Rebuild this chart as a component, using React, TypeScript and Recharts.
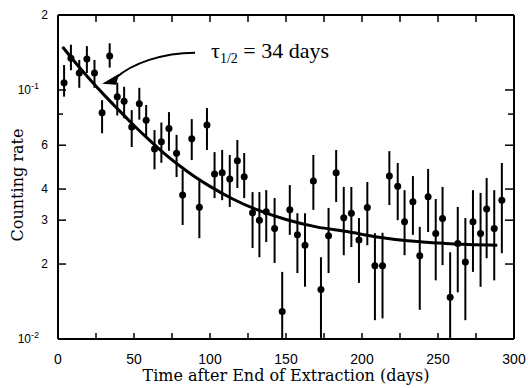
import React from 'react';
import { ComposedChart, Scatter, Line, XAxis, YAxis, ErrorBar, ReferenceDot } from 'recharts';

// measured points: days after extraction, counting rate, and the ends of each error bar
const times = [
  4, 8.5, 14, 19, 24, 29, 34, 39, 43.5, 48.5, 53.5, 58, 63.5, 68, 73, 78, 82, 88, 93, 98,
  103, 108, 113, 118, 122.5, 128, 132.5, 137, 142.5, 147.5, 152.5, 157.5, 162.5, 168, 173, 178,
  183, 188, 193, 198, 203.5, 208.5, 213.5, 218, 223.5, 228, 233.5, 238, 243.5, 248.5, 253, 258,
  263, 268, 273, 278, 282, 287, 292,
];
const rates = [
  0.107, 0.134, 0.117, 0.133, 0.117, 0.081, 0.137, 0.094, 0.09, 0.071, 0.088, 0.0755, 0.058,
  0.062, 0.07, 0.0557, 0.0379, 0.0637, 0.0338, 0.0723, 0.046, 0.0465, 0.0439, 0.052, 0.0448,
  0.0321, 0.03, 0.0324, 0.0278, 0.0129, 0.033, 0.0262, 0.0238, 0.0431, 0.0158, 0.026, 0.0465,
  0.0307, 0.032, 0.025, 0.0337, 0.0197, 0.0197, 0.0451, 0.0411, 0.0296, 0.0356, 0.0216, 0.0373,
  0.0265, 0.0305, 0.0147, 0.0242, 0.0204, 0.0296, 0.0265, 0.0333, 0.0278, 0.0361,
];
const rateLow = [
  0.094, 0.12, 0.102, 0.117, 0.102, 0.067, 0.123, 0.079, 0.077, 0.059, 0.076, 0.065, 0.048,
  0.051, 0.057, 0.0447, 0.0287, 0.0523, 0.0254, 0.0574, 0.0368, 0.0361, 0.0339, 0.0404, 0.0368,
  0.0232, 0.0213, 0.0245, 0.0202, 0.0101, 0.0262, 0.0184, 0.0162, 0.033, 0.0101, 0.0184, 0.0355,
  0.0217, 0.0234, 0.0168, 0.0238, 0.0119, 0.0121, 0.0345, 0.03, 0.0217, 0.0262, 0.0131, 0.0269,
  0.0172, 0.0198, 0.0101, 0.0154, 0.0119, 0.0186, 0.0162, 0.0211, 0.0172, 0.0221,
];
const rateHigh = [
  0.126, 0.152, 0.132, 0.15, 0.132, 0.091, 0.154, 0.107, 0.103, 0.083, 0.102, 0.087, 0.069,
  0.074, 0.0815, 0.066, 0.0477, 0.0764, 0.0435, 0.0846, 0.0563, 0.0574, 0.0548, 0.063, 0.0558,
  0.0389, 0.0389, 0.0396, 0.0368, 0.0186, 0.0415, 0.032, 0.032, 0.0548, 0.0213, 0.0336, 0.0574,
  0.0408, 0.0408, 0.0306, 0.0427, 0.0266, 0.0267, 0.0568, 0.0509, 0.0396, 0.0451, 0.0282, 0.0482,
  0.0365, 0.0408, 0.0223, 0.0339, 0.0306, 0.0396, 0.0386, 0.0443, 0.0396, 0.0509,
];

// fitted decay curve
const fitTimes = [3, 10, 20, 30, 40, 50, 60, 70, 80, 90, 100, 115, 130, 150, 170, 190, 210, 230, 255, 289];
const fitRates = [
  0.149, 0.132, 0.112, 0.096, 0.083, 0.072, 0.063, 0.0555, 0.0496, 0.0448, 0.041, 0.0365, 0.0332,
  0.0302, 0.0282, 0.027, 0.0257, 0.0248, 0.0242, 0.0238,
];

const xTicks = [0, 25, 50, 75, 100, 125, 150, 175, 200, 225, 250, 275, 300];
const yTicks = [0.01, 0.02, 0.03, 0.04, 0.05, 0.06, 0.07, 0.08, 0.09, 0.1, 0.2];
const yTickLabels = ['10^-2', '2', '3', '4', '5', '6', '', '', '', '10^-1', '2'];

// where the arrow points on the curve
const annotT = 29;
const annotV = 0.106;

const points = times.map((t, i) => ({
  t,
  v: rates[i],
  err: [rates[i] - rateLow[i], rateHigh[i] - rates[i]],
}));
const fit = fitTimes.map((t, i) => ({ t, v: fitRates[i] }));

const tickFont = '"Liberation Sans", Arial, sans-serif';
const titleFont = '"DejaVu Serif", serif';

const LEFT_GAP = 10;
const BOTTOM_GAP = 20;

const YTick = (props: any) => {
  const { x, y, payload } = props;
  const label = yTickLabels[yTicks.indexOf(payload.value)] ?? '';
  const ax = x + LEFT_GAP;
  const len = label ? 8 : 5;
  const [base, exp] = label.split('^');
  return (
    <g>
      <line x1={ax} x2={ax + len} y1={y} y2={y} stroke="#000" strokeWidth={1.5} />
      {label && exp && (
        <text x={x - 9} y={y + 4} textAnchor="end" fontSize={12} fontFamily={tickFont} fill="#000">
          {base}
          <tspan dy={-5} fontSize={9}>{exp}</tspan>
        </text>
      )}
      {label && !exp && (
        <text x={x} y={y + 4} textAnchor="end" fontSize={12} fontFamily={tickFont} fill="#000">
          {label}
        </text>
      )}
    </g>
  );
};

const YTickRight = (props: any) => {
  const { x, y, payload } = props;
  const len = yTickLabels[yTicks.indexOf(payload.value)] ? 8 : 5;
  return <line x1={x - 1} x2={x - 1 - len} y1={y} y2={y} stroke="#000" strokeWidth={1.5} />;
};

const XTick = (props: any) => {
  const { x, y, payload } = props;
  const ay = y - BOTTOM_GAP;
  return (
    <g>
      <line x1={x} x2={x} y1={ay} y2={ay - 6} stroke="#000" strokeWidth={1.5} />
      {payload.value % 50 === 0 && (
        <text x={x} y={y} dy={5} textAnchor="middle" fontSize={14} fontFamily={tickFont} fill="#000">
          {payload.value}
        </text>
      )}
    </g>
  );
};

const XTickTop = (props: any) => {
  const { x, y } = props;
  return <line x1={x} x2={x} y1={y + 1} y2={y + 7} stroke="#000" strokeWidth={1.5} />;
};

const ArrowNote = (props: any) => {
  const { cx, cy } = props;
  return (
    <g>
      <path
        d={`M ${cx + 93} ${cy - 31} C ${cx + 60} ${cy - 31} ${cx + 30} ${cy - 20} ${cx + 14} ${cy - 6}`}
        fill="none"
        stroke="#000"
        strokeWidth={2}
      />
      <polygon points={`${cx},${cy} ${cx + 17},${cy - 10} ${cx + 14},${cy + 1}`} fill="#000" />
      <text x={cx + 109} y={cy - 26} fontFamily='"Liberation Serif", serif' fontSize={22} fill="#000">
        τ<tspan fontSize={14} dy={5}>1/2</tspan>
        <tspan dy={-5}> = 34 days</tspan>
      </text>
    </g>
  );
};

const YTitle = (props: any) => {
  const { viewBox } = props;
  const x = viewBox.x + 17;
  const y = viewBox.y + viewBox.height / 2 + 8;
  return (
    <text x={x} y={y} transform={`rotate(-90 ${x} ${y})`} textAnchor="middle" dominantBaseline="central" fontSize={16} fontFamily={titleFont} fill="#000">
      Counting rate
    </text>
  );
};

const axisLine = { stroke: '#000', strokeWidth: 2 };

export default function App() {
  return (
    <div style={{ position: 'absolute', left: 0, top: 0, background: '#fff' }}>
      <ComposedChart width={528} height={388} margin={{ top: 14, right: 13, bottom: 19, left: 0 }}>
        <XAxis
          dataKey="t"
          type="number"
          domain={[0, 300]}
          ticks={xTicks}
          height={30}
          tickSize={0}
          tickMargin={BOTTOM_GAP}
          tick={XTick}
          tickLine={false}
          axisLine={axisLine}
          allowDataOverflow
          label={{
            value: 'Time after End of Extraction (days)',
            position: 'bottom',
            offset: 1,
            fontSize: 16,
            fontFamily: titleFont,
            fill: '#000',
          }}
        />
        <XAxis
          xAxisId="top"
          dataKey="t"
          orientation="top"
          type="number"
          domain={[0, 300]}
          ticks={xTicks}
          height={1}
          tickSize={0}
          tickMargin={0}
          tick={XTickTop}
          tickLine={false}
          axisLine={axisLine}
          allowDataOverflow
        />
        <YAxis
          dataKey="v"
          scale="log"
          domain={[0.01, 0.2]}
          ticks={yTicks}
          width={58}
          tickSize={0}
          tickMargin={LEFT_GAP}
          tick={YTick}
          tickLine={false}
          axisLine={axisLine}
          allowDataOverflow
          label={{ content: YTitle }}
        />
        <YAxis
          yAxisId="r"
          dataKey="v"
          orientation="right"
          scale="log"
          domain={[0.01, 0.2]}
          ticks={yTicks}
          width={1}
          tickSize={0}
          tickMargin={0}
          tick={YTickRight}
          tickLine={false}
          axisLine={axisLine}
          allowDataOverflow
        />
        {/* invisible copy that ties the frame axes (top, right) to data */}
        <Line
          data={fit}
          dataKey="v"
          xAxisId="top"
          yAxisId="r"
          stroke="none"
          dot={false}
          activeDot={false}
          isAnimationActive={false}
        />
        <Line
          data={fit}
          dataKey="v"
          type="monotone"
          stroke="#000"
          strokeWidth={3}
          dot={false}
          isAnimationActive={false}
        />
        <Scatter
          data={points}
          dataKey="v"
          isAnimationActive={false}
          shape={(p: any) => <circle cx={p.cx} cy={p.cy} r={3.5} fill="#000" />}
        >
          <ErrorBar dataKey="err" direction="y" width={0} stroke="#000" strokeWidth={2} isAnimationActive={false} />
        </Scatter>
        <ReferenceDot x={annotT} y={annotV} r={0} ifOverflow="visible" shape={ArrowNote} />
      </ComposedChart>
    </div>
  );
}
